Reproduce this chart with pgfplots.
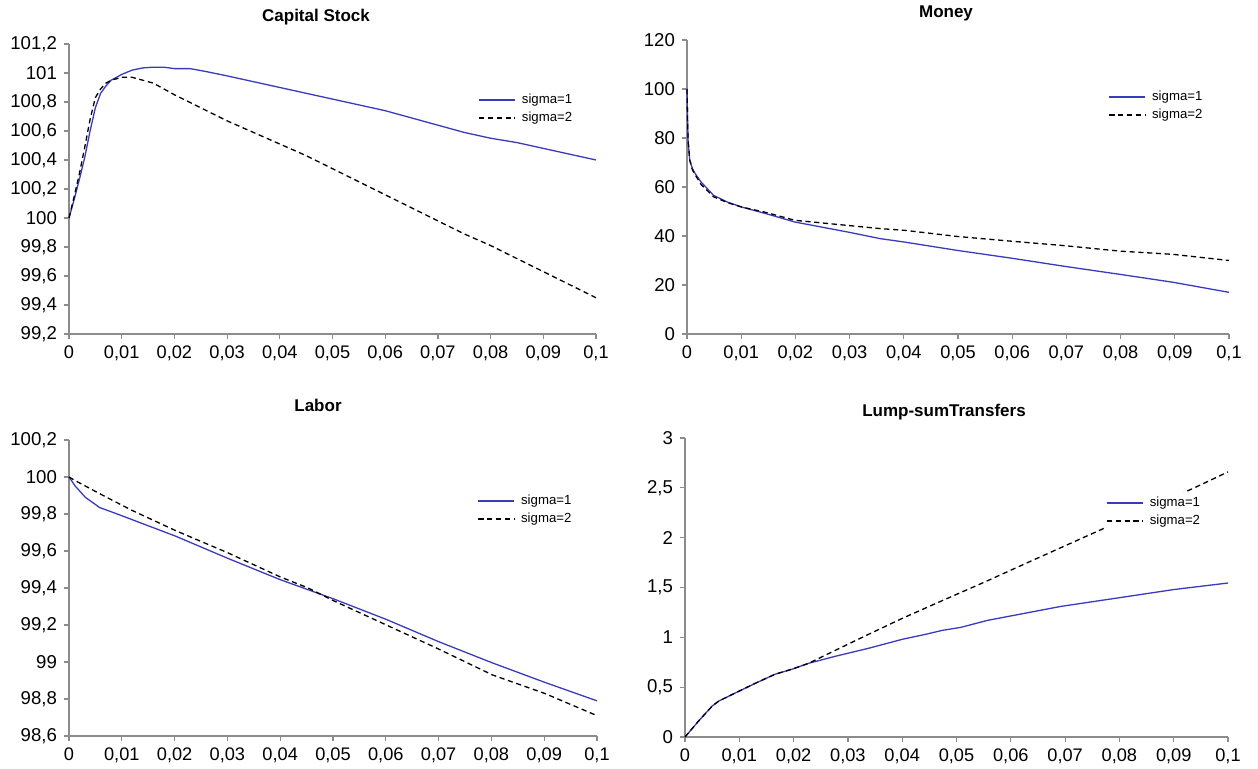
\documentclass[border=0pt]{standalone}
\usepackage{fontspec}
\setmainfont{Liberation Sans}
\usepackage{pgfplots}
\pgfplotsset{compat=1.18}

\definecolor{sigone}{RGB}{58,58,190}
\definecolor{axgray}{RGB}{140,140,140}

\pgfplotsset{
  panel/.style={
    scale only axis,
    axis x line=bottom, axis y line=left,
    axis line style={-, draw=axgray, line width=0.6pt},
    tick style={draw=axgray, line width=0.6pt},
    tick align=outside, major tick length=2.5pt,
    xmin=0, xmax=0.1,
    xtick={0,0.01,0.02,0.03,0.04,0.05,0.06,0.07,0.08,0.09,0.1},
    scaled x ticks=false, scaled y ticks=false,
    xticklabel style={font=\fontsize{9.1}{11}\selectfont, /pgf/number format/.cd, fixed, precision=2, use comma, assume math mode=true},
    yticklabel style={font=\fontsize{9.3}{11}\selectfont, /pgf/number format/.cd, fixed, precision=1, use comma, 1000 sep={}, assume math mode=true},
    legend cell align=left,
    legend image code/.code={\draw[##1, line width=0.8pt] (0pt,0pt) -- (18pt,0pt);},
    legend style={draw=none, fill=white, inner sep=0pt, anchor=west,
      font=\fontsize{6.6}{8}\selectfont, row sep=-1.2pt,
      /tikz/every odd column/.append style={column sep=1pt}},
    clip=false,
  },
  s1/.style={sigone, line width=0.65pt},
  s2/.style={black, line width=0.65pt, dash pattern=on 2.6pt off 1.8pt},
}

\begin{document}
\begin{tikzpicture}

% Capital Stock
\begin{axis}[panel, at={(34.5pt,217.5pt)}, anchor=south west,
    width=263.5pt, height=145pt, ymin=99.2, ymax=101.2,
    ytick={99.2,99.4,99.6,99.8,100,100.2,100.4,100.6,100.8,101,101.2},
    legend style={at={(axis description cs:0.776,0.776)}}]
\addplot[s1] coordinates {
 (0,100) (0.001,100.13) (0.002,100.27) (0.003,100.42) (0.004,100.60) (0.005,100.76)
 (0.006,100.86) (0.007,100.91) (0.008,100.95) (0.010,100.99) (0.012,101.02) (0.014,101.035)
 (0.016,101.04) (0.018,101.04) (0.020,101.03) (0.023,101.03) (0.026,101.01) (0.030,100.98)
 (0.035,100.94) (0.040,100.90) (0.045,100.86) (0.050,100.82) (0.055,100.78) (0.060,100.74)
 (0.065,100.69) (0.070,100.64) (0.075,100.59) (0.080,100.55) (0.085,100.52) (0.090,100.48)
 (0.095,100.44) (0.100,100.40)
};
\addlegendentry{sigma=1}
\addplot[s2] coordinates {
 (0,100) (0.001,100.15) (0.002,100.31) (0.003,100.49) (0.004,100.68) (0.005,100.83)
 (0.006,100.89) (0.007,100.93) (0.008,100.95) (0.010,100.97) (0.012,100.97) (0.014,100.95)
 (0.016,100.93) (0.018,100.89) (0.020,100.85) (0.025,100.76) (0.030,100.67) (0.035,100.59)
 (0.040,100.51) (0.045,100.43) (0.050,100.34) (0.055,100.25) (0.060,100.16) (0.065,100.07)
 (0.070,99.98) (0.075,99.89) (0.080,99.81) (0.085,99.72) (0.090,99.63) (0.095,99.54)
 (0.100,99.45)
};
\addlegendentry{sigma=2}
\end{axis}

% Money
\begin{axis}[panel, at={(343.5pt,217.5pt)}, anchor=south west,
    width=271pt, height=147pt, ymin=0, ymax=120,
    ytick={0,20,40,60,80,100,120},
    legend style={at={(axis description cs:0.777,0.776)}}]
\addplot[s1] coordinates {
 (0,100) (0.0001,88) (0.0002,79) (0.0005,71) (0.0010,67.5) (0.0015,65.5) (0.0026,62)
 (0.0049,56.6) (0.0075,53.8) (0.0101,51.8) (0.0146,49.1) (0.0199,45.7) (0.0297,41.6)
 (0.0357,38.9) (0.0402,37.5) (0.0499,34.1) (0.0597,31.0) (0.0694,27.7) (0.0800,24.3)
 (0.0897,21.1) (0.1,17.0)
};
\addlegendentry{sigma=1}
\addplot[s2] coordinates {
 (0,100) (0.0001,88) (0.0002,79) (0.0005,71) (0.0010,67) (0.0015,65) (0.0026,61)
 (0.0049,56) (0.0075,53.6) (0.0101,51.8) (0.0146,49.6) (0.0199,46.4) (0.0297,44.3)
 (0.0357,43.0) (0.0402,42.3) (0.0499,39.8) (0.0597,37.9) (0.0694,36.1) (0.0800,33.8)
 (0.0897,32.5) (0.1,30.0)
};
\addlegendentry{sigma=2}
\end{axis}

% Labor
\begin{axis}[panel, at={(34.5pt,16.5pt)}, anchor=south west,
    width=264pt, height=148pt, ymin=98.6, ymax=100.2,
    ytick={98.6,98.8,99,99.2,99.4,99.6,99.8,100,100.2},
    legend style={at={(axis description cs:0.773,0.764)}}]
\addplot[s1] coordinates {
 (0,100) (0.0012,99.95) (0.0031,99.89) (0.0058,99.835) (0.0096,99.795) (0.0202,99.68)
 (0.0301,99.56) (0.0400,99.445) (0.0502,99.34) (0.0601,99.23) (0.0700,99.11)
 (0.0802,98.995) (0.0901,98.89) (0.1,98.79)
};
\addlegendentry{sigma=1}
\addplot[s2] coordinates {
 (0,100) (0.0012,99.98) (0.0058,99.91) (0.0119,99.82) (0.0202,99.71) (0.0301,99.59)
 (0.0400,99.46) (0.0453,99.40) (0.0502,99.33) (0.0601,99.20) (0.0700,99.07)
 (0.0802,98.93) (0.0901,98.83) (0.1,98.71)
};
\addlegendentry{sigma=2}
\end{axis}

% Lump-sum transfers
\begin{axis}[panel, at={(342.5pt,16pt)}, anchor=south west,
    width=271.5pt, height=149.5pt, ymin=0, ymax=3,
    ytick={0,0.5,1,1.5,2,2.5,3},
    legend style={at={(axis description cs:0.775,0.753)}}]
\addplot[s1] coordinates {
 (0,0) (0.0025,0.16) (0.005,0.31) (0.0062,0.36) (0.0092,0.44) (0.013,0.54) (0.0166,0.63)
 (0.0197,0.68) (0.0228,0.74) (0.0277,0.81) (0.0338,0.89) (0.04,0.98) (0.0443,1.03)
 (0.0474,1.07) (0.0508,1.10) (0.0557,1.17) (0.0692,1.31) (0.0803,1.40) (0.0901,1.48) (0.1,1.545)
};
\addlegendentry{sigma=1}
\addplot[s2] coordinates {
 (0,0) (0.0025,0.16) (0.005,0.31) (0.0062,0.36) (0.0092,0.44) (0.013,0.54) (0.0166,0.63)
 (0.0197,0.68) (0.0228,0.74) (0.0277,0.87) (0.0338,1.03) (0.04,1.19) (0.0462,1.34)
 (0.0508,1.45) (0.0554,1.56) (0.0631,1.75) (0.0766,2.08) (0.0938,2.50) (0.1,2.66)
};
\addlegendentry{sigma=2}
\end{axis}

\node[font=\fontsize{8.5}{10}\selectfont\bfseries] at (158pt,376pt) {Capital Stock};
\node[font=\fontsize{8.5}{10}\selectfont\bfseries] at (473pt,378pt) {Money};
\node[font=\fontsize{8.5}{10}\selectfont\bfseries] at (159pt,182pt) {Labor};
\node[font=\fontsize{8.5}{10}\selectfont\bfseries] at (472pt,178.5pt) {Lump-sumTransfers};

\pgfresetboundingbox
\useasboundingbox (0,0) rectangle (629pt,384.5pt);
\end{tikzpicture}
\end{document}
